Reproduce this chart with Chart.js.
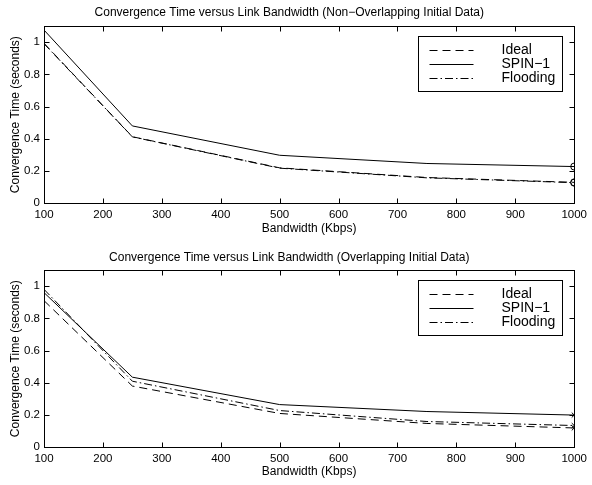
<!DOCTYPE html>
<html>
<head>
<meta charset="utf-8">
<script src="https://cdn.jsdelivr.net/npm/chart.js@4"></script>
<style>
  body { margin: 0; background: #fff; }
  canvas { display: block; }
</style>
</head>
<body>
<canvas id="topCanvas" width="592" height="240"></canvas>
<canvas id="bottomCanvas" width="592" height="245"></canvas>
<script>
// data
const bandwidth = [100, 250, 500, 750, 1000];
const xTicks = [100, 200, 300, 400, 500, 600, 700, 800, 900, 1000];
const yTicks = [0, 0.2, 0.4, 0.6, 0.8, 1];
const seriesNames = ['Ideal', 'SPIN\u22121', 'Flooding'];

// non-overlapping initial data
const nonOverlapIdeal = [0.993, 0.413, 0.220, 0.160, 0.130];
const nonOverlapSpin = [1.075, 0.480, 0.298, 0.247, 0.228];
const nonOverlapFlooding = [0.990, 0.412, 0.218, 0.158, 0.128];

// overlapping initial data
const overlapIdeal = [0.910, 0.380, 0.210, 0.148, 0.120];
const overlapSpin = [0.960, 0.435, 0.265, 0.222, 0.200];
const overlapFlooding = [0.980, 0.410, 0.228, 0.160, 0.135];

Chart.defaults.font.family = "'Liberation Sans', Arial, Helvetica, sans-serif";
Chart.defaults.color = '#000';

const dashes = [[8, 5], [], [8, 3, 1.5, 3]];

const matlabAxes = {
  id: 'matlabAxes',
  afterDatasetsDraw(chart) {
    const { ctx, chartArea: a, scales: { x, y } } = chart;
    const L = Math.round(a.left) + 0.5, R = Math.round(a.right) + 0.5;
    const T = Math.round(a.top) + 0.5, B = Math.round(a.bottom) + 0.5;
    ctx.save();
    ctx.strokeStyle = '#000';
    ctx.lineWidth = 1;
    ctx.setLineDash([]);
    ctx.strokeRect(L, T, R - L, B - T);
    ctx.beginPath();
    xTicks.forEach(v => {
      const px = Math.round(x.getPixelForValue(v)) + 0.5;
      ctx.moveTo(px, B); ctx.lineTo(px, B - 5);
      ctx.moveTo(px, T); ctx.lineTo(px, T + 5);
    });
    yTicks.forEach(v => {
      const py = Math.round(y.getPixelForValue(v)) + 0.5;
      ctx.moveTo(L, py); ctx.lineTo(L + 5, py);
      ctx.moveTo(R, py); ctx.lineTo(R - 5, py);
    });
    ctx.stroke();

    // legend box in the upper right corner
    const bw = 144, bh = 55;
    const bx = Math.round(a.right - 12.5 - bw) + 0.5;
    const by = Math.round(a.top + 10) + 0.5;
    ctx.fillStyle = '#fff';
    ctx.fillRect(bx, by, bw, bh);
    ctx.strokeRect(bx, by, bw, bh);
    ctx.font = "14px 'Liberation Sans', Arial, sans-serif";
    ctx.fillStyle = '#000';
    ctx.textBaseline = 'middle';
    ctx.textAlign = 'left';
    chart.data.datasets.forEach((ds, i) => {
      const ly = Math.round(by + 13.5 + i * 14) + 0.5;
      ctx.beginPath();
      ctx.setLineDash(ds.borderDash);
      ctx.moveTo(bx + 11, ly);
      ctx.lineTo(bx + 55, ly);
      ctx.stroke();
      ctx.fillText(ds.label, bx + 83, ly);
    });
    ctx.restore();
  }
};

function makeDatasets(series, marker) {
  return series.map((values, i) => ({
    label: seriesNames[i],
    data: values.map((v, j) => ({ x: bandwidth[j], y: v })),
    borderColor: '#000',
    borderWidth: 1,
    borderDash: dashes[i],
    fill: false,
    tension: 0,
    pointRadius: values.map((v, j) => (j === values.length - 1 ? 3.5 : 0)),
    pointStyle: marker,
    pointBorderColor: '#000',
    pointBackgroundColor: 'rgba(0,0,0,0)',
    pointBorderWidth: 1,
    clip: 0
  }));
}

function buildChart(canvas, titleText, series, marker, geo) {
  return new Chart(canvas, {
    type: 'line',
    data: { datasets: makeDatasets(series, marker) },
    options: {
      responsive: false,
      animation: false,
      events: [],
      layout: { padding: { left: 0, right: 13.4, top: 0, bottom: 0 } },
      plugins: {
        legend: { display: false },
        tooltip: { enabled: false },
        title: {
          display: true,
          text: titleText,
          font: { size: 12, weight: 'normal' },
          padding: { top: geo.titleTop, bottom: geo.titleBottom }
        }
      },
      scales: {
        x: {
          type: 'linear',
          min: 100,
          max: 1000,
          afterBuildTicks: s => { s.ticks = xTicks.map(v => ({ value: v })); },
          afterFit: s => { s.height = geo.xHeight; },
          grid: { display: false, drawTicks: false },
          border: { display: false },
          ticks: { font: { size: 11.5 }, padding: 5, maxRotation: 0, autoSkip: false, callback: v => String(v) },
          title: { display: true, text: 'Bandwidth (Kbps)', font: { size: 12 }, padding: { top: 0, bottom: geo.xTitleBottom } }
        },
        y: {
          min: 0,
          max: 1.1,
          afterBuildTicks: s => { s.ticks = yTicks.map(v => ({ value: v })); },
          afterFit: s => { s.width = 44; },
          grid: { display: false, drawTicks: false },
          border: { display: false },
          ticks: { font: { size: 11.5 }, padding: 4, autoSkip: false, callback: v => String(v) },
          title: { display: true, text: 'Convergence Time (seconds)', font: { size: 12 }, padding: { top: 8, bottom: 0 } }
        }
      }
    },
    plugins: [matlabAxes]
  });
}

buildChart(document.getElementById('topCanvas'),
  'Convergence Time versus Link Bandwidth (Non\u2212Overlapping Initial Data)',
  [nonOverlapIdeal, nonOverlapSpin, nonOverlapFlooding], 'circle',
  { titleTop: 5.8, titleBottom: 5.8, xHeight: 36.7, xTitleBottom: 4 });

buildChart(document.getElementById('bottomCanvas'),
  'Convergence Time versus Link Bandwidth (Overlapping Initial Data)',
  [overlapIdeal, overlapSpin, overlapFlooding], 'crossRot',
  { titleTop: 10.1, titleBottom: 5.5, xHeight: 37.7, xTitleBottom: 6 });
</script>
</body>
</html>
